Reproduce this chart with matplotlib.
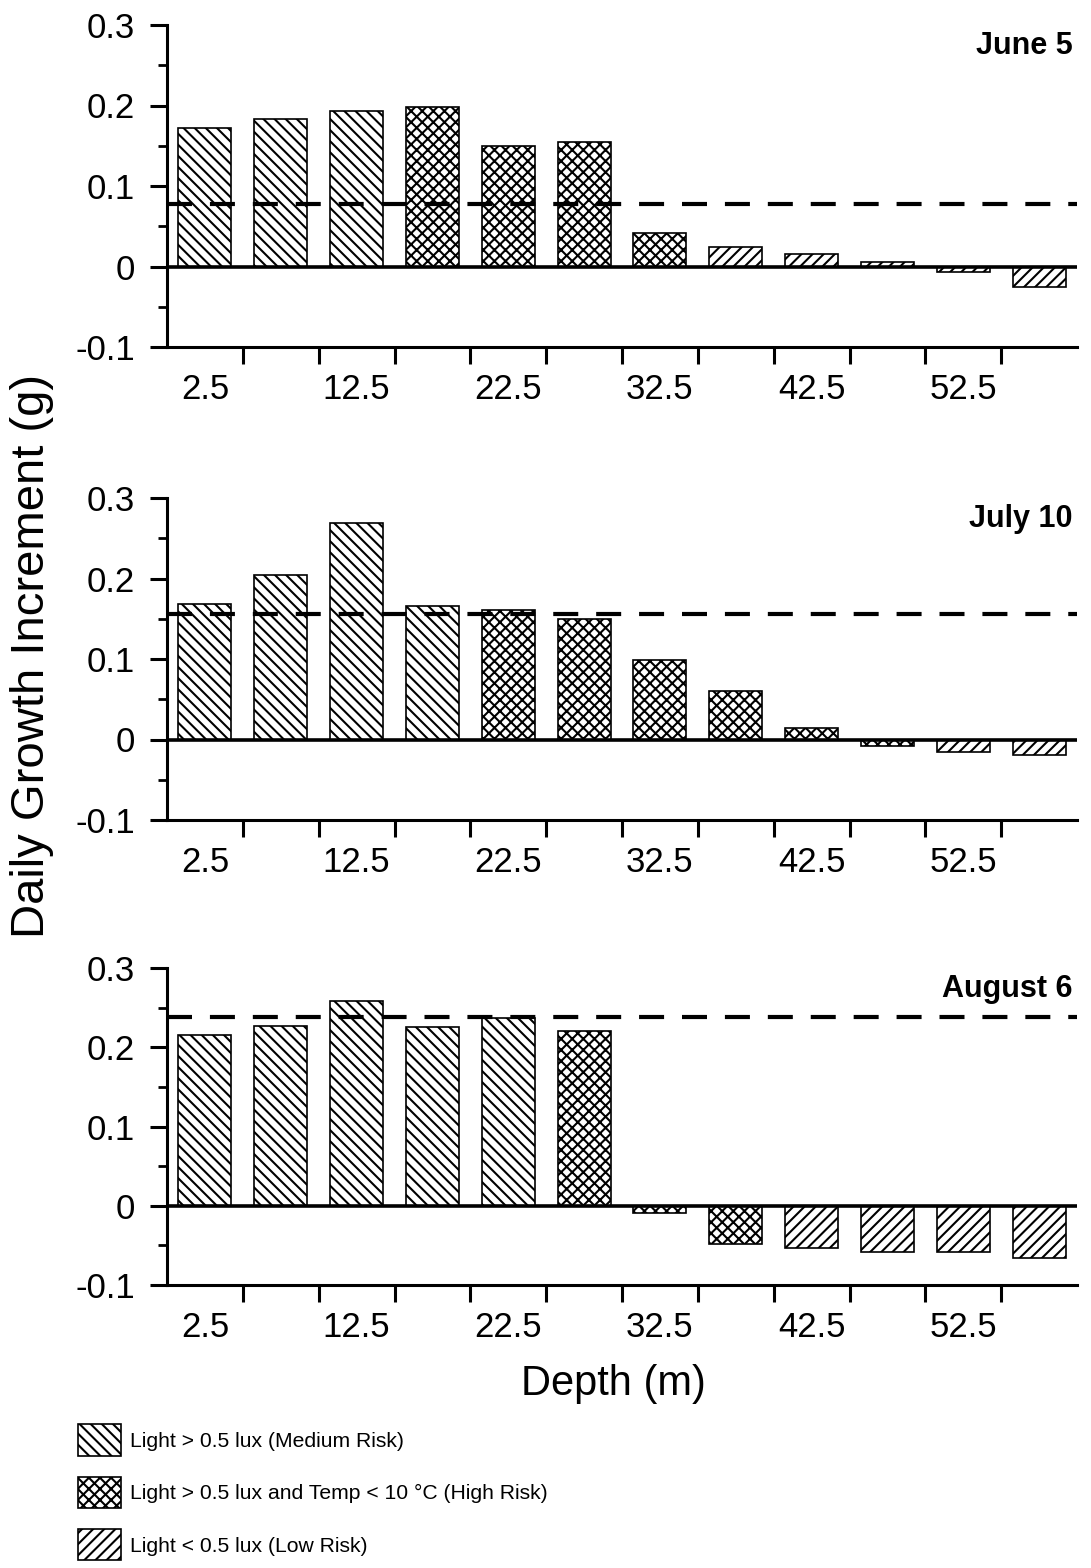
import matplotlib
matplotlib.use('Agg')
import matplotlib.pyplot as plt
from matplotlib.patches import Patch
from matplotlib.ticker import FixedLocator, NullFormatter

plt.rcParams['font.family'] = ['Liberation Sans', 'DejaVu Sans']
plt.rcParams['hatch.linewidth'] = 1.5

# ---------------- data ----------------
depths = [2.5, 7.5, 12.5, 17.5, 22.5, 27.5, 32.5, 37.5, 42.5, 47.5, 52.5, 57.5]
june5 = [0.172, 0.183, 0.193, 0.198, 0.150, 0.155, 0.042, 0.024, 0.016, 0.006, -0.007, -0.025]
july10 = [0.168, 0.204, 0.269, 0.166, 0.161, 0.150, 0.099, 0.060, 0.014, -0.008, -0.016, -0.019]
aug6 = [0.215, 0.227, 0.258, 0.226, 0.237, 0.220, -0.009, -0.048, -0.053, -0.058, -0.058, -0.066]
june5_risk = ['M', 'M', 'M', 'H', 'H', 'H', 'H', 'L', 'L', 'L', 'L', 'L']
july10_risk = ['M', 'M', 'M', 'M', 'H', 'H', 'H', 'H', 'H', 'H', 'L', 'L']
aug6_risk = ['M', 'M', 'M', 'M', 'M', 'H', 'H', 'H', 'L', 'L', 'L', 'L']
thresholds = [0.078, 0.156, 0.238]
panel_titles = ['June 5', 'July 10', 'August 6']
xtick_labels = ['2.5', '12.5', '22.5', '32.5', '42.5', '52.5']
xtick_label_pos = [2.5, 12.5, 22.5, 32.5, 42.5, 52.5]
xtick_marks = [5, 10, 15, 20, 25, 30, 35, 40, 45, 50, 55]
ytick_vals = [-0.1, 0, 0.1, 0.2, 0.3]
ytick_labels = ['-0.1', '0', '0.1', '0.2', '0.3']
risk_hatch = {'M': '\\\\\\', 'H': 'xxx', 'L': '///'}
legend_labels = ['Light > 0.5 lux (Medium Risk)',
                 'Light > 0.5 lux and Temp < 10 \u00b0C (High Risk)',
                 'Light < 0.5 lux (Low Risk)']

series = [june5, july10, aug6]
risks = [june5_risk, july10_risk, aug6_risk]

fig = plt.figure(figsize=(10.91, 15.68), dpi=100)
left, width = 167 / 1091, 910 / 1091
panels_px = [(25, 347), (498, 820), (968, 1285)]
H = 1568

for i, (top, bot) in enumerate(panels_px):
    ax = fig.add_axes([left, 1 - bot / H, width, (bot - top) / H])
    vals = series[i]
    for d, v, r in zip(depths, vals, risks[i]):
        ax.bar(d, v, width=3.5, facecolor='white', edgecolor='black',
               linewidth=1.2, hatch=risk_hatch[r], zorder=2)
    ax.axhline(0, color='black', linewidth=2.6, zorder=3)
    ax.axhline(thresholds[i], color='black', linewidth=3.0,
               linestyle=(0, (6, 4.3)), zorder=4)
    ax.set_xlim(0, 60)
    ax.set_ylim(-0.1, 0.3)
    for s in ['top', 'right']:
        ax.spines[s].set_visible(False)
    for s in ['left', 'bottom']:
        ax.spines[s].set_linewidth(2.2)
    ax.set_yticks(ytick_vals)
    ax.set_yticklabels(ytick_labels)
    ax.yaxis.set_minor_locator(FixedLocator([-0.05, 0.05, 0.15, 0.25]))
    ax.tick_params(axis='y', which='major', length=12, width=2.2,
                   labelsize=25, pad=11)
    ax.tick_params(axis='y', which='minor', length=6.5, width=2.0)
    ax.set_xticks(xtick_marks)
    ax.xaxis.set_major_formatter(NullFormatter())
    ax.set_xticks(xtick_label_pos, minor=True)
    ax.set_xticklabels(xtick_labels, minor=True)
    ax.tick_params(axis='x', which='major', length=12, width=2.2)
    ax.tick_params(axis='x', which='minor', length=0, labelsize=25, pad=19)
    ax.text(0.995, 0.935, panel_titles[i], transform=ax.transAxes,
            ha='right', va='center', fontsize=22, fontweight='bold')

fig.text(32 / 1091, 1 - 656 / H, 'Daily Growth Increment (g)', rotation=90,
         ha='center', va='center', fontsize=34)
fig.text(613 / 1091, 1 - 1384 / H, 'Depth (m)', ha='center', va='center',
         fontsize=30)

handles = [Patch(facecolor='white', edgecolor='black', hatch=risk_hatch[k],
                 linewidth=1.2) for k in ['M', 'H', 'L']]
fig.legend(handles, legend_labels, loc='upper left',
           bbox_to_anchor=(70 / 1091, 1 - 1416 / H), frameon=False,
           fontsize=15.2, handlelength=2.0, handleheight=1.9,
           labelspacing=1.0, handletextpad=0.45, borderaxespad=0)

fig.savefig('out.png', dpi=100)
